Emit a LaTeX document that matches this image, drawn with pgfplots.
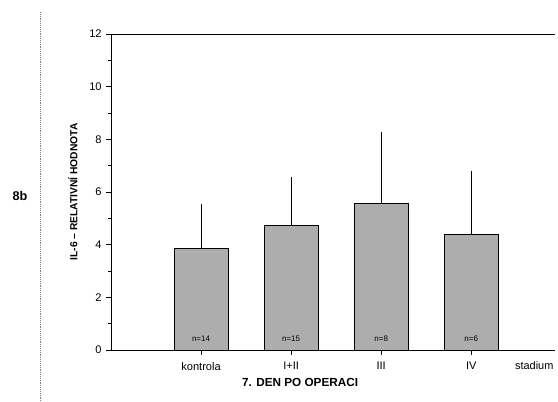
\documentclass[border=0pt]{standalone}
\usepackage{pgfplots}
\pgfplotsset{compat=1.18}
\usetikzlibrary{calc}
\usepackage{fontspec}
\setmainfont{Liberation Sans}
\begin{document}
\begin{tikzpicture}[x=0.75pt,y=0.75pt]
\begin{axis}[
    scale only axis,
    width=333pt, height=237pt,
    xmin=-1, xmax=3.93,
    ymin=0, ymax=12,
    axis x line*=box,
    axis y line*=left,
    xtick pos=bottom,
    xtick={0,1,2,3},
    xticklabels={kontrola,I+II,III,IV},
    ytick={0,2,4,6,8,10,12},
    minor y tick num=1,
    tick align=outside,
    major tick length=3.5pt,
    minor tick length=2pt,
    tick style={black, line width=0.5pt},
    axis line style={line width=0.7pt},
    ticklabel style={font=\fontsize{8.3}{9}\selectfont},
    xticklabel style={yshift=-2pt},
    /pgf/number format/assume math mode=true,
    clip=false,
]
\addplot[ybar, bar width=40.5pt, fill=black!32, draw=black, line width=0.7pt,
    error bars/.cd, y dir=plus, y explicit,
    error bar style={black, line width=0.5pt},
    error mark options={black, mark size=2.6pt, line width=0.6pt}]
    coordinates {
    (0, 3.87) +- (0, 1.56)
    (1, 4.72) +- (0, 1.70)
    (2, 5.55) +- (0, 2.60)
    (3, 4.40) +- (0, 2.25)
};
\coordinate (O) at (rel axis cs:0,0);
\node[font=\fontsize{6}{7}\selectfont] at (axis cs:0,0.42) {n=14};
\node[font=\fontsize{6}{7}\selectfont] at (axis cs:1,0.42) {n=15};
\node[font=\fontsize{6}{7}\selectfont] at (axis cs:2,0.42) {n=8};
\node[font=\fontsize{6}{7}\selectfont] at (axis cs:3,0.42) {n=6};
\node[font=\fontsize{8.2}{9}\selectfont] at (axis cs:3.7,0) [yshift=-12pt] {stadium};
\node[font=\bfseries\fontsize{8.8}{10}\selectfont] at (axis cs:1.1,0) [yshift=-24pt] {7. DEN PO OPERACI};
\node[font=\bfseries\fontsize{7.7}{9}\selectfont, rotate=90] at (rel axis cs:-0.0856,0.5) {IL-6 – RELATIVNÍ HODNOTA};
\end{axis}
% page frame, same proportions as the scan (O = axis origin at scan pixel 111,350)
\path (O) ++(-111,-51) coordinate (P) rectangle ++(558,401);
\draw[gray, densely dotted] ($(P)+(40,389)$) -- ($(P)+(40,0)$);
\node[font=\bfseries\fontsize{9.5}{11}\selectfont] at ($(P)+(20,205)$) {8b};
\end{tikzpicture}
\end{document}
